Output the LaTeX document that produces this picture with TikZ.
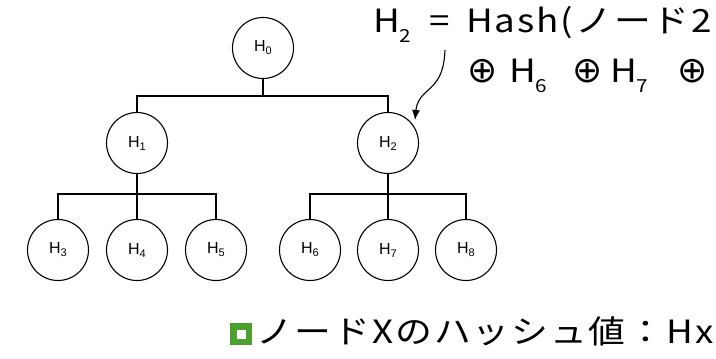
\documentclass[tikz,border=0pt]{standalone}
\usepackage{fontspec}
\setmainfont{Noto Sans CJK JP}
\newfontfamily\widefont{Noto Sans CJK JP}[FakeStretch=1.15, LetterSpace=6]
\newfontfamily\lblfont{Liberation Sans}
\newfontfamily\symfont{DejaVu Sans}
\usetikzlibrary{arrows.meta}
\definecolor{legendgreen}{RGB}{78,160,46}
\newcommand\lowsub[3]{\raisebox{-#1}{\fontsize{#2}{#2}\selectfont #3}}
\newcommand\oplusglyph{{\symfont\fontsize{36}{36}\selectfont ⊕}}
\tikzset{
  hnode/.style={circle, draw, line width=1.1pt, minimum size=61pt, inner sep=0pt, font=\lblfont\fontsize{16}{16}\selectfont},
  link/.style={line width=1.1pt},
  bigtext/.style={inner sep=0pt, font=\widefont\fontsize{32}{32}\selectfont},
}
\begin{document}
\begin{tikzpicture}[x=1pt,y=-1pt]
\clip (0,0) rectangle (716,359);
\fill[white] (0,0) rectangle (716,359);
\node[hnode] (H0) at (263,48) {H\lowsub{3pt}{11}{0}};
\node[hnode] (H1) at (137,143) {H\lowsub{3pt}{11}{1}};
\node[hnode] (H2) at (388,143) {H\lowsub{3pt}{11}{2}};
\node[hnode] (H3) at (58,250) {H\lowsub{3pt}{11}{3}};
\node[hnode] (H4) at (137,250) {H\lowsub{3pt}{11}{4}};
\node[hnode] (H5) at (216,250) {H\lowsub{3pt}{11}{5}};
\node[hnode] (H6) at (310,250) {H\lowsub{3pt}{11}{6}};
\node[hnode] (H7) at (388,250) {H\lowsub{3pt}{11}{7}};
\node[hnode] (H8) at (466,250) {H\lowsub{3pt}{11}{8}};
\coordinate (b0) at (263,96);
\coordinate (b1) at (137,194);
\coordinate (b2) at (388,194);
\draw[link] (H0.south) -- (b0);
\draw[link] (b0) -| (H1.north);
\draw[link] (b0) -| (H2.north);
\draw[link] (H1.south) -- (b1);
\draw[link] (b1) -| (H3.north);
\draw[link] (b1) -- (H4.north);
\draw[link] (b1) -| (H5.north);
\draw[link] (H2.south) -- (b2);
\draw[link] (b2) -| (H6.north);
\draw[link] (b2) -- (H7.north);
\draw[link] (b2) -| (H8.north);
\node[bigtext, anchor=base west] (eq1) at (373,32) {H\lowsub{10pt}{18}{2}\hspace{8pt} = \hspace{6pt}Hash(ノード2};
\node[bigtext, anchor=base west] (eq2) at (467,82) {\rlap{\oplusglyph}\hspace{42pt}\rlap{H\lowsub{10pt}{18}{6}}\hspace{63pt}\rlap{\oplusglyph}\hspace{38pt}\rlap{H\lowsub{10pt}{18}{7}}\hspace{67pt}\rlap{\oplusglyph}\hspace{25pt}};
\coordinate (arrstart) at (445,50);
\coordinate (arrtip) at (415,120);
\draw[line width=1.1pt, -{Latex[length=10pt,width=8pt]}] (arrstart) .. controls (444,80) and (432,86) .. (424,94) .. controls (416,102) and (416,110) .. (arrtip);
\node[draw=legendgreen, line width=6.5pt, minimum size=15.5pt, inner sep=0pt] (sq) at (241,334) {};
\node[bigtext, anchor=base west] (legend) at (256,343) {ノードXのハッシュ値：Hx};
\end{tikzpicture}
\end{document}
